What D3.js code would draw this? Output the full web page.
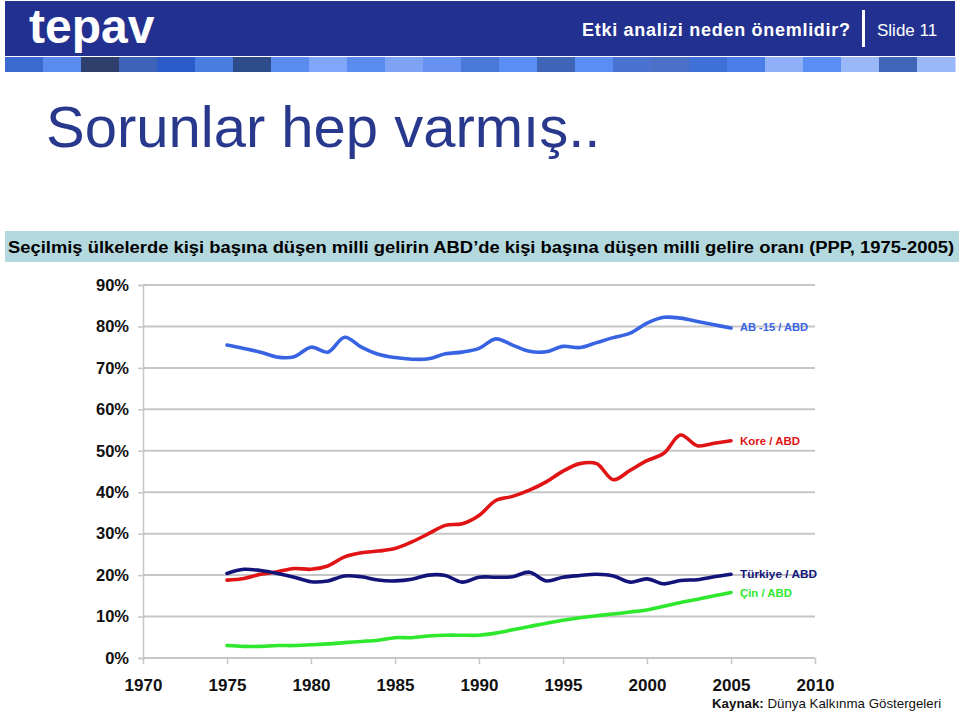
<!DOCTYPE html>
<html>
<head>
<meta charset="utf-8">
<script src="https://cdn.jsdelivr.net/npm/d3@7"></script>
<style>
  html, body { margin: 0; padding: 0; background: #fff; }
  svg { display: block; font-family: "Liberation Sans", Arial, Helvetica, sans-serif; }
</style>
</head>
<body>
<svg id="chart" width="959" height="713"></svg>
<script>
// ---------- DATA ----------
const years = d3.range(1975, 2006);
const ab15    = [75.5,74.7,73.8,72.6,72.7,75.0,73.8,77.4,75.0,73.3,72.5,72.1,72.2,73.4,73.8,74.7,77.0,75.5,74.0,73.9,75.2,74.9,76.1,77.3,78.4,80.8,82.2,82.0,81.2,80.4,79.6];
const kore    = [18.8,19.2,20.2,20.8,21.6,21.4,22.2,24.4,25.4,25.8,26.4,28.0,30.0,32.0,32.4,34.4,38.0,39.0,40.5,42.5,45.1,46.9,46.9,43.0,45.3,47.6,49.4,53.8,51.2,51.8,52.4];
const turkiye = [20.4,21.4,21.1,20.4,19.5,18.4,18.6,19.8,19.6,18.8,18.6,19.0,20.0,19.9,18.3,19.5,19.5,19.6,20.7,18.6,19.5,19.9,20.2,19.8,18.3,19.1,17.9,18.7,18.9,19.6,20.2];
const cin     = [3.0,2.8,2.8,3.0,3.0,3.2,3.4,3.7,4.0,4.3,4.9,4.9,5.3,5.5,5.5,5.5,6.0,6.8,7.6,8.4,9.1,9.7,10.2,10.6,11.1,11.6,12.5,13.4,14.2,15.0,15.8];
const seriesNames = ["AB -15 / ABD", "Kore / ABD", "Türkiye / ABD", "Çin / ABD"];
const yTicks = [0,10,20,30,40,50,60,70,80,90];
const xTicks = [1970,1975,1980,1985,1990,1995,2000,2005,2010];
const squareColors = ["#3a6ad0","#5a8cf0","#2e3f6b","#3d63b8","#2a5bc8","#4a7de0","#2f4c8a","#5a8cf0","#7fa6f8","#5a8cf0","#7ea3f5","#6691f0","#4a78d8","#5a8ef5","#3f65b8","#5a8ef5","#4a72d0","#4a70c8","#3f70d8","#4a7de8","#8fb0f8","#5a8ef5","#9ab8f8","#3f66b8","#9ab8f8"];

const svg = d3.select("#chart");

// ---------- HEADER ----------
svg.append("rect").attr("x",5).attr("y",1).attr("width",950).attr("height",55).attr("fill","#22318f");
const sqW = 950 / squareColors.length;
svg.selectAll("rect.sq").data(squareColors).enter().append("rect")
  .attr("class","sq")
  .attr("x",(d,i)=>5 + i*sqW).attr("y",57).attr("width",sqW+0.5).attr("height",15)
  .attr("fill",d=>d);
svg.append("text").attr("x",29).attr("y",43).attr("fill","#fff")
  .attr("font-size",48).attr("font-weight","bold").text("tepav");
svg.append("text").attr("x",582).attr("y",36).attr("fill","#fff")
  .attr("font-size",18).attr("font-weight","bold")
  .attr("textLength",268).attr("lengthAdjust","spacing").text("Etki analizi neden önemlidir?");
svg.append("rect").attr("x",862).attr("y",10).attr("width",3).attr("height",37).attr("fill","#fff");
svg.append("text").attr("x",877).attr("y",36).attr("fill","#fff")
  .attr("font-size",17).text("Slide 11");

// ---------- TITLE ----------
svg.append("text").attr("x",46).attr("y",147).attr("fill","#28398d")
  .attr("font-size",58).text("Sorunlar hep varmış..");

svg.append("rect").attr("x",5).attr("y",231).attr("width",954).attr("height",31).attr("fill","#b3d9df");
svg.append("text").attr("x",8).attr("y",252.5).attr("fill","#000")
  .attr("font-size",16).attr("font-weight","bold")
  .attr("textLength",946).attr("lengthAdjust","spacingAndGlyphs")
  .text("Seçilmiş ülkelerde kişi başına düşen milli gelirin ABD’de kişi başına düşen milli gelire oranı (PPP, 1975-2005)");

// ---------- CHART ----------
const x = d3.scaleLinear().domain([1970, 2010]).range([143, 815]);
const y = d3.scaleLinear().domain([0, 90]).range([658, 285]);

const g = svg.append("g");
// gridlines
g.selectAll("line.grid").data(yTicks).enter().append("line")
  .attr("x1",x(1970)).attr("x2",x(2010))
  .attr("y1",d=>y(d)).attr("y2",d=>y(d))
  .attr("stroke","#c6c6c6").attr("stroke-width",2);

// y axis
const yAxis = d3.axisLeft(y).tickValues(yTicks).tickFormat(d=>d+"%").tickSize(5).tickPadding(9);
const ya = g.append("g").attr("transform",`translate(${x(1970)},0)`).call(yAxis);
ya.select(".domain").attr("stroke","#c6c6c6").attr("stroke-width",1.5);
ya.selectAll(".tick line").attr("stroke","#c6c6c6").attr("stroke-width",1.5);
ya.selectAll(".tick text").attr("font-size",16.5).attr("font-weight","bold").attr("fill","#111")
  .attr("font-family","Liberation Sans, Arial, sans-serif");

// x axis
const xAxis = d3.axisBottom(x).tickValues(xTicks).tickFormat(d3.format("d")).tickSize(6).tickPadding(15);
const xa = g.append("g").attr("transform",`translate(0,${y(0)})`).call(xAxis);
xa.select(".domain").remove();
xa.selectAll(".tick line").attr("stroke","#c6c6c6").attr("stroke-width",1.5);
xa.selectAll(".tick text").attr("font-size",17).attr("font-weight","bold").attr("fill","#111")
  .attr("font-family","Liberation Sans, Arial, sans-serif");

// lines
const series = [
  {name: seriesNames[0], values: ab15, color: "#3864e4"},
  {name: seriesNames[1], values: kore, color: "#e01414"},
  {name: seriesNames[2], values: turkiye, color: "#12147a"},
  {name: seriesNames[3], values: cin, color: "#2ee82e"}
];
const line = d3.line().x((d,i)=>x(years[i])).y(d=>y(d)).curve(d3.curveCatmullRom);
// draw order: green, red, navy, blue
[3,1,2,0].forEach(k=>{
  g.append("path").datum(series[k].values).attr("d",line)
    .attr("fill","none").attr("stroke",series[k].color).attr("stroke-width",3.6)
    .attr("stroke-linecap","round").attr("stroke-linejoin","round");
});

// labels (placed at the end of each line)
const labelY = [ab15[30], kore[30], turkiye[30], cin[30]];
const labelOffsets = [0.3, 0, 0.1, -0.1];
const labelLengths = [68, 60, 77, 52];
series.forEach((s,i)=>{
  g.append("text").attr("x",740).attr("y",y(labelY[i]+labelOffsets[i]))
    .attr("dy","0.35em").attr("fill",s.color)
    .attr("font-size",11.5).attr("font-weight","bold")
    .attr("textLength",labelLengths[i]).attr("lengthAdjust","spacingAndGlyphs").text(s.name);
});

// source
const src = svg.append("text").attr("x",712).attr("y",708).attr("font-size",13.3).attr("fill","#111");
src.append("tspan").attr("font-weight","bold").text("Kaynak:");
src.append("tspan").text(" Dünya Kalkınma Göstergeleri");
</script>
</body>
</html>
